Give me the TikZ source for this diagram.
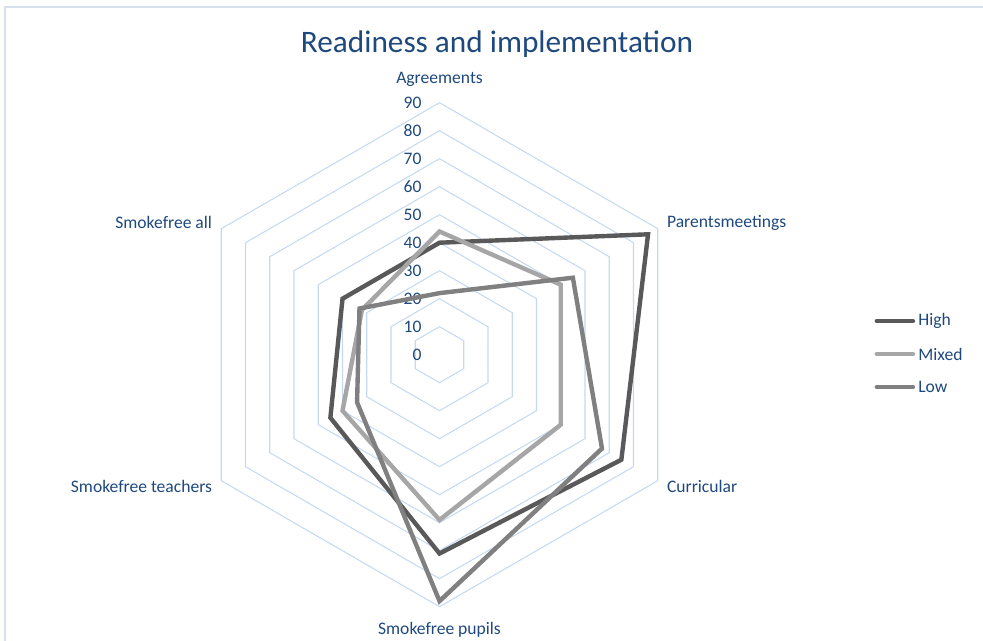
\documentclass[tikz,border=0pt]{standalone}
\usepackage{fontspec}
\setmainfont{Carlito}
\usetikzlibrary{calc}

\definecolor{labelblue}{HTML}{1F497D}
\definecolor{gridblue}{HTML}{C6D9F1}
\definecolor{framegray}{HTML}{D6E0EC}
\definecolor{highgray}{HTML}{595959}
\definecolor{mixedgray}{HTML}{A6A6A6}
\definecolor{lowgray}{HTML}{808080}

\tikzset{
  axislabel/.style={text=labelblue, font=\fontsize{10}{12}\selectfont, inner sep=0pt},
  gridline/.style={draw=gridblue, line width=0.6pt},
  series/.style={line width=2.5pt, line join=miter,
    preaction={draw=black!30, opacity=.35, transform canvas={xshift=0.7pt,yshift=-0.9pt}}},
  legendline/.style={line width=2.8pt, line cap=round, shorten >=3pt},
}

\begin{document}
\begin{tikzpicture}[x=0.02cm, y=0.02cm]
\useasboundingbox (0,0) rectangle (983,640);
\draw[framegray, line width=0.6pt] (5,-20) |- (1000,633);
\node (title) [text=labelblue, font=\fontsize{17.8}{21}\selectfont] at (497,596) {Readiness and implementation};
\coordinate (C) at (439.5,285.3);

% rings, one unit = one percent
\begin{scope}[shift={(C)}, scale=2.8]
\foreach \v in {10,20,...,90}
  \draw[gridline] (90:\v) \foreach \k in {1,...,5} { -- (90-60*\k:\v) } -- cycle;
\foreach \v in {0,10,...,90}
  \node[axislabel, anchor=east] (tick\v) at (-6.3,\v) {\v};

\node[axislabel, anchor=south] (agreements) at (0,95.5) {Agreements};
\node[axislabel, anchor=west] (parents) at ($(30:90)+(3.2,2.1)$) {Parentsmeetings};
\node[axislabel, anchor=west] (curricular) at ($(-30:90)+(3.2,-2.1)$) {Curricular};
\node[axislabel, anchor=north] (pupils) at (0,-95.5) {Smokefree pupils};
\node[axislabel, anchor=east] (teachers) at ($(210:90)+(-3.2,-2.1)$) {Smokefree teachers};
\node[axislabel, anchor=east] (all) at ($(150:90)+(-3.2,2.1)$) {Smokefree all};

% data
\draw[series, highgray] (90:40) -- (30:86) -- (-30:75) -- (-90:71) -- (-150:45) -- (150:40) -- cycle;
\draw[series, mixedgray] (90:44) -- (30:50) -- (-30:50) -- (-90:59) -- (-150:40) -- (150:32) -- cycle;
\draw[series, lowgray] (90:22) -- (30:55) -- (-30:67) -- (-90:88) -- (-150:34) -- (150:33) -- cycle;
\end{scope}

% legend
\node[axislabel, anchor=west] (high) at (918,319) {High};
\node[axislabel, anchor=west] (mixed) at (918,286) {Mixed};
\node[axislabel, anchor=west] (low) at (918,253) {Low};
\draw[legendline, highgray] (877,319) -- (high.west);
\draw[legendline, mixedgray] (877,286) -- (mixed.west);
\draw[legendline, lowgray] (877,253) -- (low.west);
\end{tikzpicture}
\end{document}
